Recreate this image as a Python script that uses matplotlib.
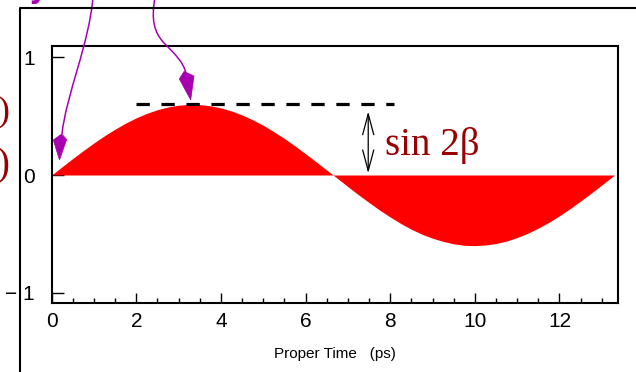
import matplotlib
matplotlib.use("Agg")
import matplotlib.pyplot as plt
import matplotlib.transforms as mtransforms
from matplotlib.path import Path
from matplotlib.patches import PathPatch, Polygon
from matplotlib.lines import Line2D
from matplotlib.ticker import MultipleLocator

# ---------------- data ----------------
proper_time = [0.0, 0.25, 0.5, 0.75, 1.0, 1.25, 1.5, 1.75, 2.0, 2.25, 2.5, 2.75, 3.0, 3.25,
               3.5, 3.75, 4.0, 4.25, 4.5, 4.75, 5.0, 5.25, 5.5, 5.75, 6.0, 6.25, 6.5, 6.75,
               7.0, 7.25, 7.5, 7.75, 8.0, 8.25, 8.5, 8.75, 9.0, 9.25, 9.5, 9.75, 10.0, 10.25,
               10.5, 10.75, 11.0, 11.25, 11.5, 11.75, 12.0, 12.25, 12.5, 12.75, 13.0, 13.3]
asymmetry = [0.0, 0.071, 0.141, 0.208, 0.273, 0.334, 0.390, 0.441, 0.486, 0.524, 0.555, 0.578,
             0.593, 0.600, 0.598, 0.588, 0.570, 0.544, 0.510, 0.469, 0.422, 0.368, 0.310, 0.247,
             0.180, 0.112, 0.042, -0.028, -0.099, -0.168, -0.234, -0.298, -0.357, -0.412,
             -0.461, -0.503, -0.537, -0.564, -0.585, -0.597, -0.600, -0.595, -0.582, -0.561,
             -0.531, -0.495, -0.451, -0.402, -0.346, -0.286, -0.221, -0.154, -0.085, 0.0]
x_ticks = [0, 2, 4, 6, 8, 10, 12]
x_tick_labels = ["0", "2", "4", "6", "8", "10", "12"]
y_ticks = [-1, 0, 1]
y_tick_labels = ["\u2212 1", "0", "1"]
sin2beta_level = 0.6
dash_span = [2.0, 8.09]
arrow_time = 7.48
arrow_span = [0.015, 0.54]
label_text = "sin 2\u03b2"
x_label = "Proper Time   (ps)"

W, H = 636, 372
plt.rcParams["font.family"] = ["Liberation Sans", "DejaVu Sans"]

fig = plt.figure(figsize=(W / 100, H / 100), dpi=100)
pix = mtransforms.Affine2D().scale(1 / W, -1 / H).translate(0, 1) + fig.transFigure

ax = fig.add_axes([51.7 / W, 1 - 303.3 / H, (618.3 - 51.7) / W, (303.3 - 46) / H])
for sp in ax.spines.values():
    sp.set_linewidth(1.5)
    sp.set_color("black")

ax.fill_between(proper_time, 0, asymmetry, color="#ff0000", lw=0, zorder=2)

ax.set_xlim(0, 13.39)
ax.set_ylim(-1.09, 1.096)
ax.set_xticks(x_ticks, x_tick_labels)
ax.set_yticks(y_ticks, y_tick_labels)
ax.xaxis.set_minor_locator(MultipleLocator(0.5))
ax.tick_params(axis="x", which="major", direction="in", length=7.2, width=1.0,
               pad=6.5, labelsize=15, top=False)
ax.tick_params(axis="x", which="minor", direction="in", length=3.6, width=1.0, top=False)
ax.tick_params(axis="y", which="major", direction="in", length=8.4, width=1.0,
               pad=12, labelsize=15, right=False)
ax.set_xlabel(x_label, fontsize=11, labelpad=11)

# dashed level line
ax.plot(dash_span, [sin2beta_level, sin2beta_level], color="black", lw=2.3,
        dashes=(4.17, 3.65), solid_capstyle="butt", zorder=3)

# double arrow
ax.annotate("", xy=(arrow_time, arrow_span[0]), xytext=(arrow_time, arrow_span[1]),
            arrowprops=dict(arrowstyle="<->,head_length=15,head_width=4", mutation_scale=1,
                            lw=0.9, color="black", shrinkA=0, shrinkB=0), zorder=4)

ax.text(7.88, 0.17, label_text, family=["Liberation Serif", "DejaVu Serif"], fontsize=28,
        color="#990000", ha="left", va="baseline", zorder=4)

# outer slide frame
fig.add_artist(Line2D([20, 20, 640], [380, 7.5, 7.5], transform=pix, color="black", lw=1.5))

# magenta annotation arrows (coming from off-picture text)
mag = "#a800b0"
curve1 = Path([(93, -3), (89, 45), (66, 95), (62, 134)],
              [Path.MOVETO, Path.CURVE4, Path.CURVE4, Path.CURVE4])
curve2 = Path([(155, -3), (151, 20), (154, 32), (164, 43), (176, 55), (183, 62), (186, 73)],
              [Path.MOVETO, Path.CURVE4, Path.CURVE4, Path.CURVE4, Path.CURVE4, Path.CURVE4, Path.CURVE4])
for c in (curve1, curve2):
    fig.add_artist(PathPatch(c, transform=pix, fill=False, edgecolor=mag, lw=1.1))
kite1 = [(61.7, 134), (66.7, 139.5), (59.5, 160), (53.3, 140)]
kite2 = [(184, 71.5), (194, 76), (190.7, 100), (179.3, 79)]
for k in (kite1, kite2):
    fig.add_artist(Polygon(k, closed=True, transform=pix, facecolor=mag, edgecolor=mag, lw=0.5))

# fragments of cut-off slide text
fig.text(29, -1.5, "y", transform=pix, fontsize=20, fontweight="bold", color=mag,
         family="DejaVu Sans", ha="left", va="baseline")
fig.text(10, 112, ")", transform=pix, fontsize=26, color="#990000",
         family="Liberation Serif", ha="right", va="center")
fig.text(10, 166, ")", transform=pix, fontsize=28, color="#990000",
         family="Liberation Serif", ha="right", va="center")

fig.savefig("out.png", dpi=100)
